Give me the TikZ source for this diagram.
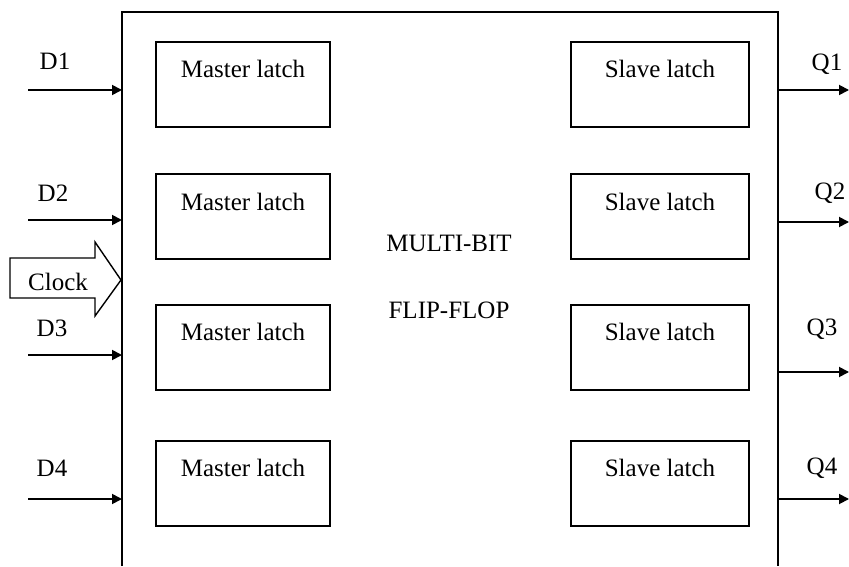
\documentclass[tikz,border=0pt]{standalone}
\usepackage{fontspec}
\setmainfont{Liberation Serif}
\usetikzlibrary{arrows.meta}

\begin{document}
\begin{tikzpicture}[x=0.5pt,y=-0.5pt,>={Triangle[length=5pt,width=5pt]},line width=1pt,
  every node/.style={font=\fontsize{12.5}{15}\selectfont},
  latch/.style={draw,rectangle,minimum height=42.5pt,inner sep=0pt},
  master/.style={latch,minimum width=87pt,label={[anchor=center,yshift=-14pt]north:Master latch}},
  slave/.style={latch,minimum width=89pt,label={[anchor=center,yshift=-14pt]north:Slave latch}},
  wire/.style={->,line width=0.9pt}]
  \useasboundingbox (0,0) rectangle (849,566);

  % outer block, open at the bottom
  \coordinate (ffl) at (122,0);
  \coordinate (ffr) at (778,0);
  \draw (122,566) |- (778,12) -- (778,566);

  \node at (449,243) {MULTI-BIT};
  \node at (449,310) {FLIP-FLOP};

  \node[master] (m1) at (243,84.5) {};
  \node[master] (m2) at (243,217) {};
  \node[master] (m3) at (243,347) {};
  \node[master] (m4) at (243,483) {};
  \node[slave] (s1) at (660,84.5) {};
  \node[slave] (s2) at (660,217) {};
  \node[slave] (s3) at (660,347) {};
  \node[slave] (s4) at (660,483) {};

  % inputs
  \node (d1) at (55,61) {D1};
  \node (d2) at (53,193) {D2};
  \node (d3) at (52,328) {D3};
  \node (d4) at (52,468) {D4};
  \coordinate (in1) at (28,90);
  \coordinate (in2) at (28,220);
  \coordinate (in3) at (28,355);
  \coordinate (in4) at (28,499);
  \draw[wire] (in1) -- (in1 -| ffl);
  \draw[wire] (in2) -- (in2 -| ffl);
  \draw[wire] (in3) -- (in3 -| ffl);
  \draw[wire] (in4) -- (in4 -| ffl);

  % clock
  \draw[line width=0.7pt] (10,258) -- (95,258) -- (95,242) -- (121,280) -- (95,316) -- (95,298) -- (10,298) -- cycle;
  \node (clk) at (58,282) {Clock};

  % outputs
  \node (q1) at (827,64) {Q1};
  \node (q2) at (830,193) {Q2};
  \node (q3) at (822,329) {Q3};
  \node (q4) at (822,468) {Q4};
  \coordinate (out1) at (849,90);
  \coordinate (out2) at (849,222);
  \coordinate (out3) at (849,372);
  \coordinate (out4) at (849,499);
  \draw[wire] (out1 -| ffr) -- (out1);
  \draw[wire] (out2 -| ffr) -- (out2);
  \draw[wire] (out3 -| ffr) -- (out3);
  \draw[wire] (out4 -| ffr) -- (out4);
\end{tikzpicture}
\end{document}
